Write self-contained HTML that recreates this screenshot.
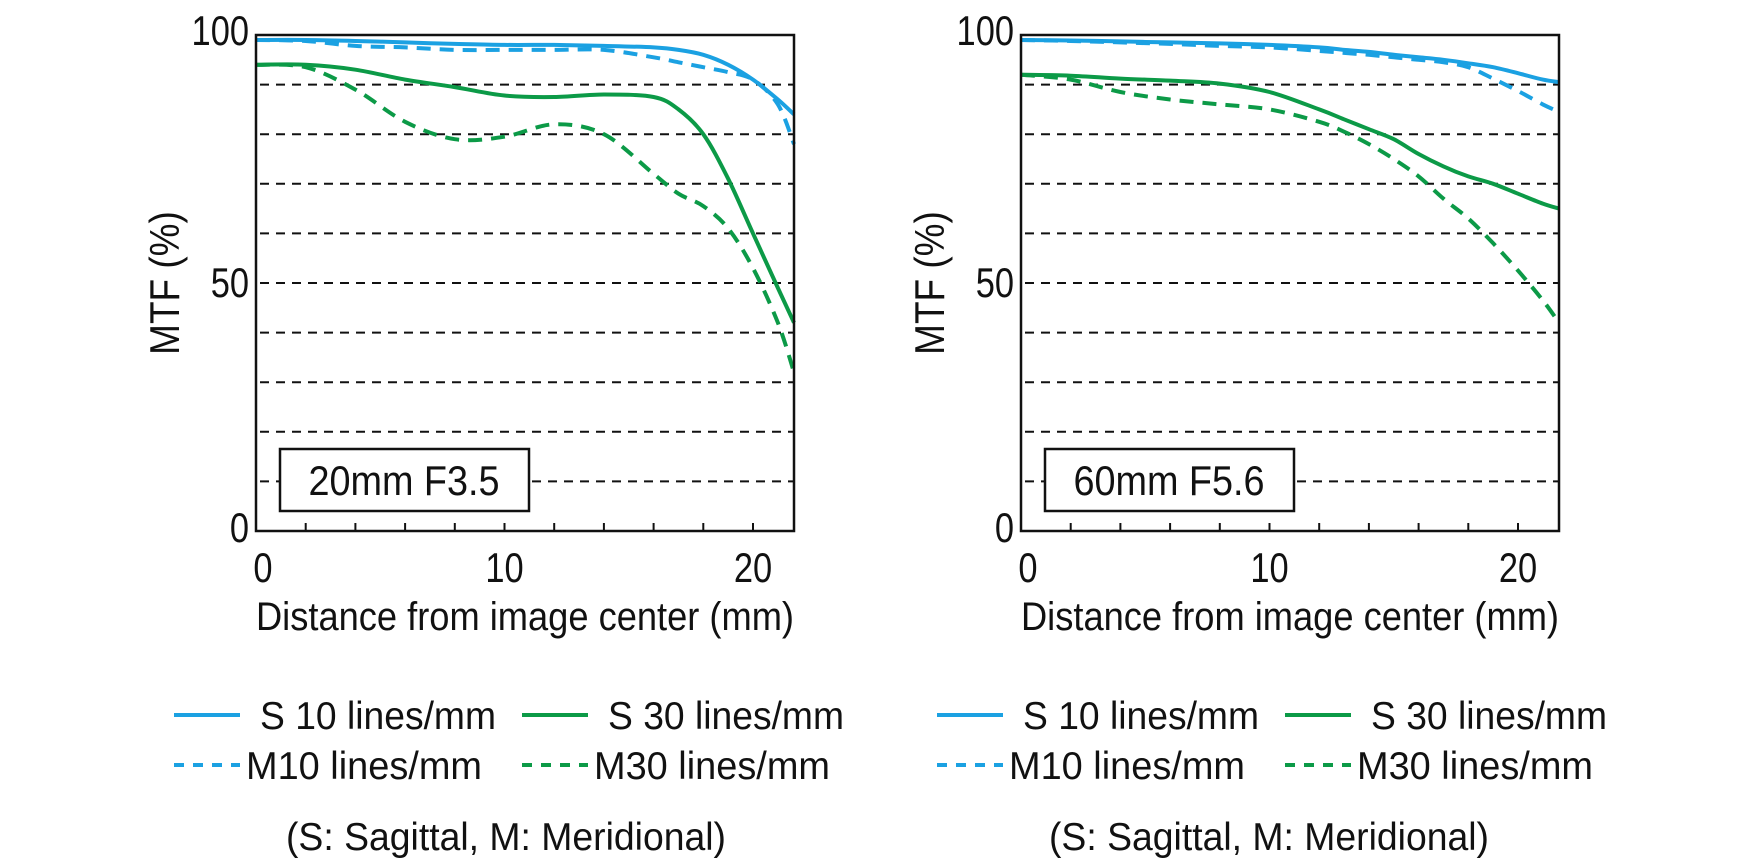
<!DOCTYPE html>
<html><head><meta charset="utf-8"><style>
html,body{margin:0;padding:0;background:#fff;}
svg{display:block;font-family:"Liberation Sans",sans-serif;}
</style></head><body>
<svg id="chart" width="1760" height="866" viewBox="0 0 1760 866" xmlns="http://www.w3.org/2000/svg"></svg>
<script>
const xs1 = [0,2,4,6,8,10,12,14,16,17,18,19,20,21,21.65];
const s10a = [99,99,98.8,98.5,98.2,98,98,97.8,97.5,97,96,94,91,87,84];
const m10a = [99,98.8,97.8,97.5,97,97,97,97,95.5,94.5,93.5,92.5,91,86,78];
const s30a = [94,94,93,91,89.5,87.8,87.5,88,87.5,85,80,71,60,49,42];
const m30a = [94,93.5,89,82.5,79,79.5,82,80,72,68,65.5,61,53,42,32];
const xs2 = [0,2,4,6,8,10,12,13,14,15,16,17,18,19,20,21,21.65];
const s10b = [99,98.9,98.7,98.5,98.3,98,97.5,97,96.6,96,95.5,95,94.3,93.5,92.3,91,90.5];
const m10b = [99,98.8,98.5,98.2,97.8,97.5,96.8,96.4,96,95.5,95,94.5,93.5,91.2,88.7,86,84.5];
const s30b = [92,91.8,91.2,90.8,90.2,88.5,85,83,81,79,76,73.5,71.5,70,68,66,65];
const m30b = [92,91,88.5,87,86,85,82.5,80.5,78,75,71.5,67,63,58,52.5,46.5,42];
const yTicks = [0,50,100];
const xTicks = [0,10,20];
const gridVals = [10,20,30,40,50,60,70,80,90];

const svg = document.getElementById('chart');
const NS = 'http://www.w3.org/2000/svg';
const BLUE = '#1ba1e2', GREEN = '#0c9a47';
function mk(tag, attrs, parent){
  const e = document.createElementNS(NS, tag);
  for (const k in attrs) e.setAttribute(k, attrs[k]);
  (parent||svg).appendChild(e); return e;
}
function smoothPath(pts){
  let d = 'M'+pts[0][0].toFixed(1)+','+pts[0][1].toFixed(1);
  for (let i=0;i<pts.length-1;i++){
    const p0=pts[Math.max(0,i-1)],p1=pts[i],p2=pts[i+1],p3=pts[Math.min(pts.length-1,i+2)];
    const c1=[p1[0]+(p2[0]-p0[0])/6,p1[1]+(p2[1]-p0[1])/6];
    const c2=[p2[0]-(p3[0]-p1[0])/6,p2[1]-(p3[1]-p1[1])/6];
    d+=' C'+c1[0].toFixed(1)+','+c1[1].toFixed(1)+' '+c2[0].toFixed(1)+','+c2[1].toFixed(1)+' '+p2[0].toFixed(1)+','+p2[1].toFixed(1);
  }
  return d;
}
function ntext(parent, x, y, size, str, anchor, sx){
  // narrow (condensed) text via horizontal scale
  const t = mk('text',{x:0,y:0,'font-size':size,'text-anchor':anchor||'start',fill:'#111',
    transform:'translate('+x+','+y+') scale('+(sx||0.86)+',1)'},parent);
  t.textContent = str;
  return t;
}
function drawChart(cfg){
  const g = mk('g', {});
  
  
  const X = v => cfg.x0 + v*cfg.pxmm;
  const Y = v => 531 - v*4.96;
  const right = X(21.65);
  gridVals.forEach(v=>{
    const l = mk('line',{x1:cfg.x0+4,x2:right,y1:Y(v),y2:Y(v),stroke:'#111','stroke-width':2,'stroke-dasharray':'9 7'},g);
    
    
  });
  for (let t=2;t<=20;t+=2){
    const l = mk('line',{x1:X(t),x2:X(t),y1:531,y2:523,stroke:'#111','stroke-width':2},g);
    
    
  }
  const box = mk('rect',{x:cfg.x0+24,y:449,width:249,height:62,fill:'#fff',stroke:'#111','stroke-width':2.5},g);
  
  
  const bt = ntext(g, cfg.x0+148, 495, 42, cfg.label, 'middle', 0.9);
  
  
  cfg.series.forEach(s=>{
    const pts = cfg.xs.map((x,i)=>[X(x),Y(s.vals[i])]);
    const p = mk('path',{d:smoothPath(pts),fill:'none',stroke:s.color,'stroke-width':4},g);
    if (s.dash) p.setAttribute('stroke-dasharray','14 9');
    
    
  });
  const frame = mk('rect',{x:cfg.x0,y:35,width:right-cfg.x0,height:496,fill:'none',stroke:'#111','stroke-width':2.5},g);
  
  
  yTicks.forEach(v=>{
    const t = ntext(g, cfg.x0-7, Y(v)+(v===100?10:v===0?11:14), 42, String(v), 'end', 0.82);
    
    
  });
  xTicks.forEach(v=>{
    const t = ntext(g, X(v)+(v===0?7:0), 582, 42, String(v), 'middle', 0.82);
    
    
  });
  const yt = mk('text',{x:0,y:0,'font-size':42,'text-anchor':'middle',fill:'#111',transform:'translate('+(cfg.x0-77)+',283) rotate(-90) scale(0.88,1)'},g);
  yt.textContent = 'MTF (%)';
  
  
  const xt = mk('text',{x:cfg.x0,y:630,'font-size':40,fill:'#111',textLength:right-cfg.x0,lengthAdjust:'spacingAndGlyphs'},g);
  xt.textContent = 'Distance from image center (mm)';
  
  
  const L = cfg.lx;
  const legend = [
    {t:'S 10 lines/mm',c:BLUE,d:false,x:L,y:715},
    {t:'S 30 lines/mm',c:GREEN,d:false,x:L+348,y:715},
    {t:'M10 lines/mm',c:BLUE,d:true,x:L,y:765},
    {t:'M30 lines/mm',c:GREEN,d:true,x:L+348,y:765}
  ];
  legend.forEach(e=>{
    const lg = mk('g',{},g);
    
    
    const ln = mk('line',{x1:e.x,x2:e.x+66,y1:e.y,y2:e.y,stroke:e.c,'stroke-width':4},lg);
    if (e.d) ln.setAttribute('stroke-dasharray','10 9');
    const tx = mk('text',{x:e.x+(e.d?72:86),y:e.y+14,'font-size':39,fill:'#111',textLength:e.d?236:236,lengthAdjust:'spacingAndGlyphs'},lg);
    tx.textContent = e.t;
  });
  const fn = mk('text',{x:L+112,y:850,'font-size':39,fill:'#111',textLength:440,lengthAdjust:'spacingAndGlyphs'},g);
  fn.textContent = '(S: Sagittal, M: Meridional)';
  
  
}
drawChart({name:'chart-20mm',x0:256,pxmm:24.85,label:'20mm F3.5',xs:xs1,lx:174,
  series:[{name:'line-s10',vals:s10a,color:BLUE},{name:'line-m10',vals:m10a,color:BLUE,dash:true},
          {name:'line-s30',vals:s30a,color:GREEN},{name:'line-m30',vals:m30a,color:GREEN,dash:true}]});
drawChart({name:'chart-60mm',x0:1021,pxmm:24.85,label:'60mm F5.6',xs:xs2,lx:937,
  series:[{name:'line-s10',vals:s10b,color:BLUE},{name:'line-m10',vals:m10b,color:BLUE,dash:true},
          {name:'line-s30',vals:s30b,color:GREEN},{name:'line-m30',vals:m30b,color:GREEN,dash:true}]});
</script>
</body></html>
